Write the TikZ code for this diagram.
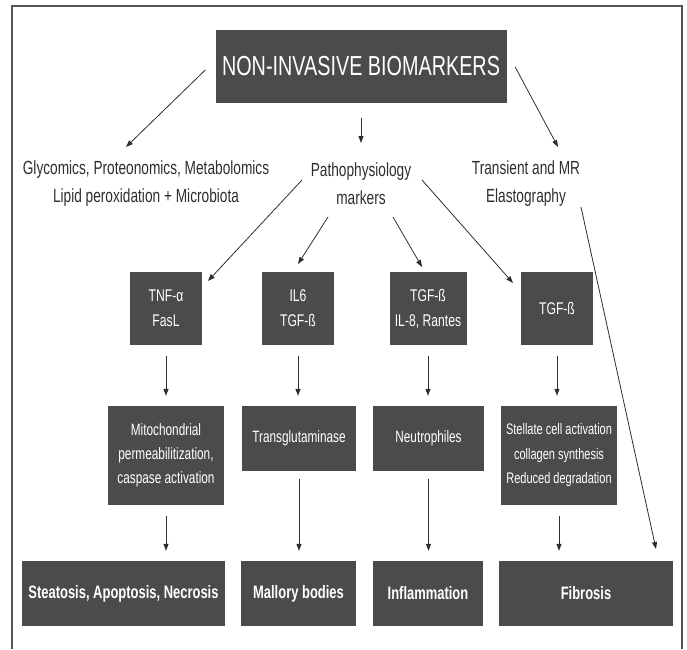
\documentclass[tikz,border=0pt]{standalone}
\usepackage{fontspec}
\setmainfont{Liberation Sans}[FakeStretch=0.72]
\usetikzlibrary{arrows.meta}
\definecolor{boxgray}{HTML}{4A4B4D}
\definecolor{inkgray}{HTML}{2E2E2E}
\definecolor{framegray}{HTML}{555555}
\tikzstyle{dark box}=[
    fill = boxgray,
    text = white,
    inner sep = 0pt,
    align = center,
    font = \fontsize{16.9}{25}\selectfont
]

\begin{document}
\begin{tikzpicture}[x=1pt, y=-1pt, >={Triangle[length=7pt,width=5pt]},
    arr/.style = {->, draw=inkgray, line width=0.8pt},
    down/.style = {arr, shorten <=11pt, shorten >=10pt},
    plain/.style = {align=center, text=inkgray, inner sep=0pt, font=\fontsize{19}{28}\selectfont},
    end box/.style = {dark box, minimum height=65pt, font=\fontsize{18}{20}\selectfont\bfseries}]
        \useasboundingbox (0,0) rectangle (687,649);
        \draw[framegray, line width=1.3pt] (12,649) -- (12,6) -- (682,6) -- (682,649);

        \node[dark box, minimum width=291pt, minimum height=73pt, font=\fontsize{27.5}{30}\selectfont] (title) at (361,66) {NON-INVASIVE BIOMARKERS};

        \node[plain] (glyco) at (146,184) {Glycomics, Proteonomics, Metabolomics\\Lipid peroxidation + Microbiota};
        \node[plain] (patho) at (361,184) {Pathophysiology\\markers};
        \node[plain] (trans) at (526,184) {Transient and MR\\Elastography};

        \node[dark box, minimum width=72pt, minimum height=73pt] (tnf) at (166,308.5) {TNF-α\\FasL};
        \node[dark box, minimum width=72pt, minimum height=73pt] (ilsix) at (298,308.5) {IL6\\TGF-ß};
        \node[dark box, minimum width=77pt, minimum height=73pt] (tgfil) at (428,308.5) {TGF-ß\\IL-8, Rantes};
        \node[dark box, minimum width=72pt, minimum height=73pt] (tgf) at (557,308.5) {TGF-ß};

        \node[dark box, minimum width=116pt, minimum height=99pt, font=\fontsize{16.4}{24}\selectfont] (mito) at (166,455.5) {Mitochondrial\\permeabilitization,\\caspase activation};
        \node[dark box, minimum width=114pt, minimum height=65pt, font=\fontsize{16.4}{24}\selectfont] (transg) at (299,438.5) {Transglutaminase};
        \node[dark box, minimum width=111pt, minimum height=65pt, font=\fontsize{16.4}{24}\selectfont] (neutro) at (428.5,438.5) {Neutrophiles};
        \node[dark box, minimum width=116pt, minimum height=99pt, font=\fontsize{15.3}{24.5}\selectfont] (stell) at (559,455.5) {Stellate cell activation\\collagen synthesis\\Reduced degradation};

        \node[end box, minimum width=203pt] (steat) at (123.5,593.5) {Steatosis, Apoptosis, Necrosis};
        \node[end box, minimum width=115pt] (mallory) at (298.5,593.5) {Mallory bodies};
        \node[end box, minimum width=110pt] (inflam) at (428,593.5) {Inflammation};
        \node[end box, minimum width=174pt] (fibro) at (586,593.5) {Fibrosis};

        % from the title
        \draw[arr] ([xshift=-10pt,yshift=-4pt]title.west) -- ([xshift=-20pt,yshift=37pt]glyco.center);
        \draw[arr] ([yshift=-15pt]title.south) -- ([yshift=41pt]patho.center);
        \draw[arr] ([xshift=8.5pt,yshift=-1pt]title.east) -- ([xshift=32pt,yshift=37pt]trans.center);

        % from the pathophysiology markers
        \draw[arr] ([xshift=-59pt,yshift=4pt]patho.center) -- ([xshift=42pt,yshift=27.5pt]tnf.center);
        \draw[arr] ([xshift=-33pt,yshift=-33pt]patho.center) -- ([yshift=44.5pt]ilsix.center);
        \draw[arr] ([xshift=32pt,yshift=-33pt]patho.center) -- ([xshift=-6pt,yshift=41.5pt]tgfil.center);
        \draw[arr] ([xshift=61pt,yshift=4pt]patho.center) -- ([xshift=-44pt,yshift=25.5pt]tgf.center);

        \draw[arr] ([xshift=55pt,yshift=-23pt]trans.center) -- ([xshift=70pt,yshift=44.5pt]fibro.center);

        \draw[down] (tnf.south) -- (tnf.south |- mito.north);
        \draw[down] (ilsix.south) -- (ilsix.south |- transg.north);
        \draw[down] (tgfil.south) -- (tgfil.south |- neutro.north);
        \draw[down] (tgf.south) -- (tgf.south |- stell.north);

        \draw[down] (mito.south) -- (mito.south |- steat.north);
        \draw[down, shorten <=8pt] (transg.south) -- (transg.south |- mallory.north);
        \draw[down, shorten <=8pt] (neutro.south) -- (neutro.south |- inflam.north);
        \draw[down] (stell.south) -- (stell.south |- fibro.north);

    \end{tikzpicture}
\end{document}
